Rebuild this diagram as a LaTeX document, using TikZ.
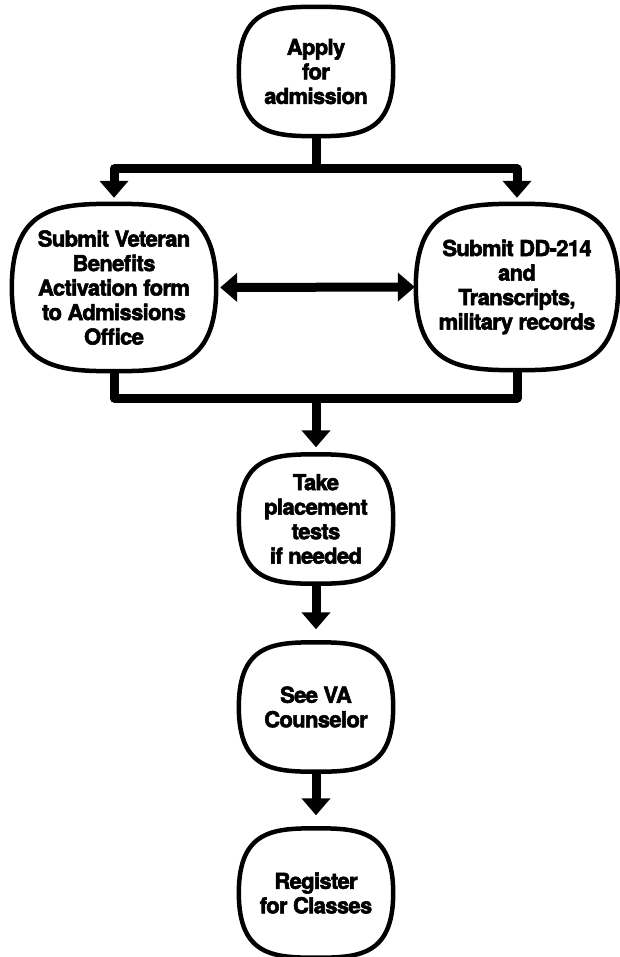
\documentclass[tikz,border=0pt]{standalone}
\usepackage{fontspec}
\setmainfont{TeX Gyre Heros}[BoldFeatures={FakeBold=2.5,LetterSpace=-3}]
\usetikzlibrary{arrows.meta,calc}
\begin{document}
\begin{tikzpicture}[x=1pt,y=-1pt,
  stepbox/.style={inner sep=0pt, align=center, font=\bfseries\fontsize{22}{24.5}\selectfont},
  smallbox/.style={stepbox, minimum width=154pt, minimum height=129pt},
  boxline/.style={line width=4.5pt},
  conn/.style={line width=9pt, line join=round},
  arr/.style={conn, -{Triangle[width=28pt,length=17pt]}},
  darr/.style={conn, {Triangle[width=28pt,length=17pt]}-{Triangle[width=28pt,length=17pt]}}
]
\useasboundingbox (0,0) rectangle (619,957);
\node[smallbox] (apply) at (316,71.5) {Apply\\for\\admission};
\node[stepbox, minimum width=204pt, minimum height=167pt] (vet) at (114,287.5) {Submit Veteran\\Benefits\\Activation form\\to Admissions\\Office};
\node[stepbox, minimum width=202pt, minimum height=166pt] (dd) at (517,287) {Submit DD-214\\and\\Transcripts,\\military records};
\node[smallbox] (place) at (316,519) {Take\\placement\\tests\\if needed};
\node[smallbox] (va) at (316,707) {See VA\\Counselor};
\node[smallbox] (reg) at (316,893) {Register\\for Classes};
\def\ka{0.97}
\def\kb{0.55}
\foreach \n in {apply,vet,dd,place,va,reg}{
  \draw[boxline] (\n.west)
    .. controls ($(\n.west)!\ka!(\n.north west)$) and ($(\n.north)!\kb!(\n.north west)$) .. (\n.north)
    .. controls ($(\n.north)!\kb!(\n.north east)$) and ($(\n.east)!\ka!(\n.north east)$) .. (\n.east)
    .. controls ($(\n.east)!\ka!(\n.south east)$) and ($(\n.south)!\kb!(\n.south east)$) .. (\n.south)
    .. controls ($(\n.south)!\kb!(\n.south west)$) and ($(\n.west)!\ka!(\n.south west)$) .. cycle;
}
\coordinate (bar1) at (316,169);
\coordinate (bar2) at (316,398);
\draw[arr, shorten >=6pt] (apply.south) -- (bar1) -| (vet.north);
\draw[arr, shorten >=6pt] (bar1) -| (dd.north);
\draw[darr, shorten <=4pt, shorten >=1pt] (vet.east) -- (dd.west);
\draw[conn] (vet.south) |- (bar2) -| (dd.south);
\draw[arr, shorten >=7pt] (bar2) -- (place.north);
\draw[arr, shorten >=13pt] (place.south) -- (va.north);
\draw[arr, shorten >=13pt] (va.south) -- (reg.north);
\end{tikzpicture}
\end{document}
